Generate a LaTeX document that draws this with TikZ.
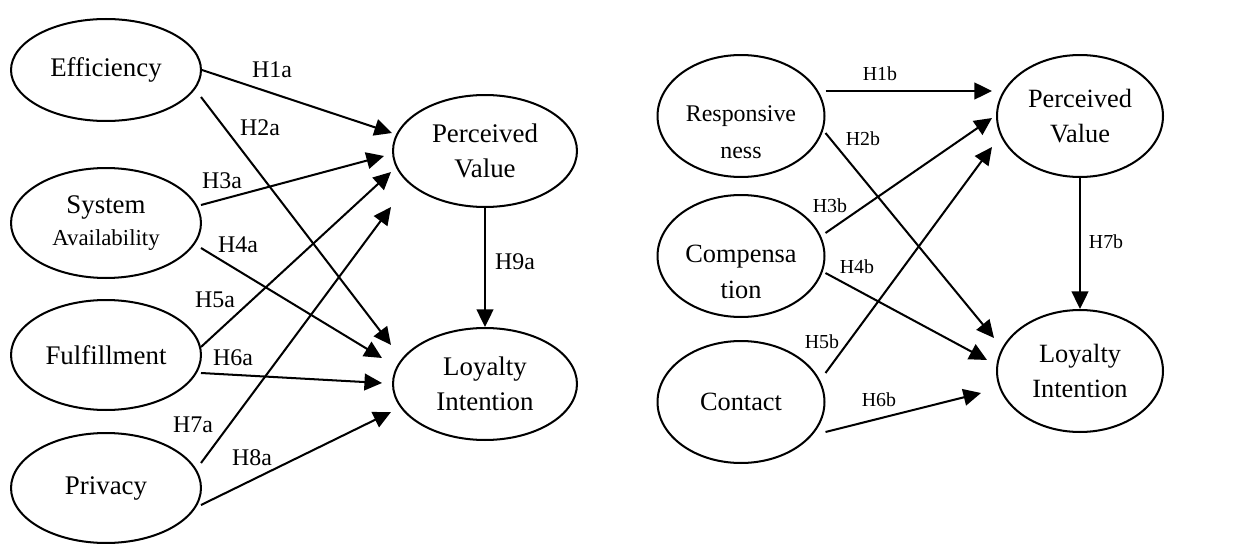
\documentclass[tikz,border=0pt]{standalone}
\usepackage{fontspec}
\setmainfont{Liberation Serif}
\usetikzlibrary{shapes.geometric,arrows.meta,calc}
\begin{document}
\begin{tikzpicture}[x=0.02cm,y=-0.02cm,
  cons/.style={draw, ellipse, line width=1.15pt, inner sep=0pt, align=center,
    font=\fontsize{15.3}{19.8}\selectfont},
  consr/.style={cons, minimum width=3.34cm, minimum height=2.44cm,
    font=\fontsize{15}{19.8}\selectfont},
  lowtext/.style={inner sep=0pt, align=center, yshift=-9pt},
  link/.style={line width=1.15pt, -{Triangle[length=10pt,width=9.5pt]}},
  lbl/.style={inner sep=0pt, font=\fontsize{13.6}{16}\selectfont},
  lblb/.style={inner sep=0pt, font=\fontsize{11.3}{14}\selectfont}]
\useasboundingbox (0,0) rectangle (1244,544);

% ---------- left model ----------
\node[cons, minimum width=3.8cm, minimum height=2.04cm] (eff) at (106,70) {Efficiency};
\node[cons, minimum width=3.8cm, minimum height=2.2cm] (sys) at (106,223)
  {System\\[-2pt]{\fontsize{13}{16}\selectfont Availability}};
\node[cons, minimum width=3.8cm, minimum height=2.2cm] (ful) at (106,355) {Fulfillment};
\node[cons, minimum width=3.8cm, minimum height=2.2cm] (pri) at (106,488) {Privacy};
\node[cons, minimum width=3.68cm, minimum height=2.24cm] (pv1) at (485,151) {Perceived\\Value};
\node[cons, minimum width=3.68cm, minimum height=2.24cm] (li1) at (485,384) {Loyalty\\Intention};

\draw[link] (eff.east) -- ($(pv1.west)+(0,-18)$);
\draw[link] ($(eff.east)+(-1,27)$) -- ($(li1.west)+(-1,-39)$);
\draw[link] ($(sys.east)+(-1,-18)$) -- ($(pv1.west)+(-8,5)$);
\draw[link] ($(sys.east)+(-1,25)$) -- ($(li1.west)+(-10,-26)$);
\draw[link] ($(ful.east)+(-1,-8)$) -- ($(pv1.west)+(-1,21)$);
\draw[link] ($(ful.east)+(-1,18)$) -- ($(li1.west)+(-10,-1)$);
\draw[link] ($(pri.east)+(-1,-25)$) -- ($(pv1.west)+(-1,56)$);
\draw[link] ($(pri.east)+(-1,17)$) -- ($(li1.west)+(-1,28)$);
\draw[link] (pv1.south) -- (li1.north);

\node[lbl] (h1a) at (272,70) {H1a};
\node[lbl] (h2a) at (260,128) {H2a};
\node[lbl] (h3a) at (222,181) {H3a};
\node[lbl] (h4a) at (238,245) {H4a};
\node[lbl] (h5a) at (215,300) {H5a};
\node[lbl] (h6a) at (233,358) {H6a};
\node[lbl] (h7a) at (193,425) {H7a};
\node[lbl] (h8a) at (252,458) {H8a};
\node[lbl] (h9a) at (515,262) {H9a};

% ---------- right model ----------
\node[consr, label={[lowtext, font=\fontsize{13.6}{21}\selectfont]center:Responsive\\ness}] (res) at (741,116) {};
\node[consr, label={[lowtext, font=\fontsize{15}{20.5}\selectfont]center:Compensa\\tion}] (com) at (741,256) {};
\node[consr] (con) at (741,402) {Contact};
\node[consr, minimum width=3.32cm] (pv2) at (1080,116) {Perceived\\Value};
\node[consr, minimum width=3.32cm] (li2) at (1080,371) {Loyalty\\Intention};

\draw[link] ($(res.east)+(0,-25)$) -- ($(pv2.west)+(-4,-25)$);
\draw[link] ($(res.east)+(0,17)$) -- ($(li2.west)+(-2,-33)$);
\draw[link] ($(com.east)+(0,-23)$) -- ($(pv2.west)+(-4,2)$);
\draw[link] ($(com.east)+(0,17)$) -- ($(li2.west)+(-9,-11)$);
\draw[link] ($(con.east)+(0,-29)$) -- ($(pv2.west)+(-4,31)$);
\draw[link] ($(con.east)+(0,30)$) -- ($(li2.west)+(-15,22)$);
\draw[link] (pv2.south) -- (li2.north);

\node[lblb] (h1b) at (880,74) {H1b};
\node[lblb] (h2b) at (863,139) {H2b};
\node[lblb] (h3b) at (830,206) {H3b};
\node[lblb] (h4b) at (857,267) {H4b};
\node[lblb] (h5b) at (822,342) {H5b};
\node[lblb] (h6b) at (879,400) {H6b};
\node[lblb] (h7b) at (1106,242) {H7b};
\end{tikzpicture}
\end{document}
